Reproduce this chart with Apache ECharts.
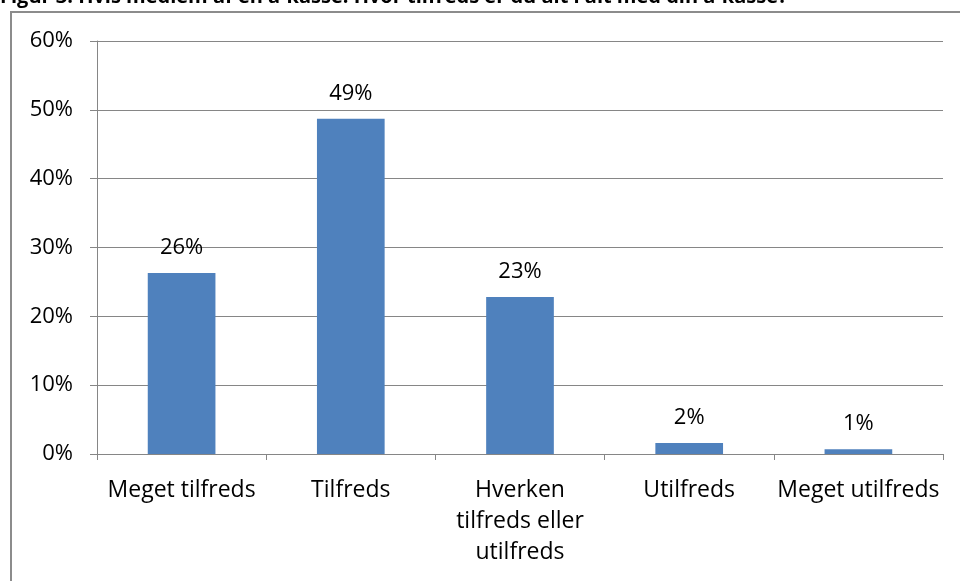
<!DOCTYPE html>
<html>
<head>
<meta charset="utf-8">
<script src="https://cdn.jsdelivr.net/npm/echarts@6/dist/echarts.min.js"></script>
<style>
  html, body { margin: 0; padding: 0; background: #fff; }
  #chart { width: 960px; height: 581px; }
</style>
</head>
<body>
<div id="chart"></div>
<script>
// tilfredshed med a-kassen
const categories = ['Meget tilfreds', 'Tilfreds', 'Hverken\ntilfreds eller\nutilfreds', 'Utilfreds', 'Meget utilfreds'];
const values = [26.3, 48.7, 22.8, 1.6, 0.7];
const titleText = 'Figur 3: Hvis medlem af en a-kasse: Hvor tilfreds er du alt i alt med din a-kasse?';

const font = '"Open Sans", "Liberation Sans", Arial, sans-serif';
const chart = echarts.init(document.getElementById('chart'));

const option = {
  animation: false,
  backgroundColor: '#fff',
  graphic: [
    {
      type: 'rect',
      shape: { x: 11, y: 12, width: 1000, height: 620 },
      style: { fill: 'none', stroke: '#8c8c8c', lineWidth: 2 }
    },
    {
      type: 'text',
      left: 0,
      top: -13,
      style: {
        text: titleText,
        font: 'bold 20px ' + font,
        fill: '#000'
      }
    }
  ],
  grid: { left: 97, right: 17, top: 41, bottom: 127 },
  xAxis: {
    type: 'category',
    data: categories,
    axisLine: { lineStyle: { color: '#868686', width: 1 } },
    axisTick: { show: true, length: 6, lineStyle: { color: '#868686' } },
    axisLabel: {
      color: '#000',
      fontSize: 23,
      fontFamily: font,
      margin: 21,
      lineHeight: 31,
      interval: 0
    }
  },
  yAxis: {
    type: 'value',
    min: 0,
    max: 60,
    interval: 10,
    axisLine: { show: true, lineStyle: { color: '#868686' } },
    axisTick: { show: true, length: 7, lineStyle: { color: '#868686' } },
    splitLine: { lineStyle: { color: '#868686', width: 1 } },
    axisLabel: {
      formatter: '{value}%',
      color: '#000',
      fontSize: 22,
      fontFamily: font,
      margin: 24
    }
  },
  series: [{
    type: 'bar',
    data: values,
    barWidth: '40%',
    itemStyle: { color: '#4f81bd' },
    label: {
      show: true,
      position: 'top',
      distance: 14,
      color: '#000',
      fontSize: 22,
      fontFamily: font,
      formatter: p => Math.round(p.value) + '%'
    }
  }]
};

chart.setOption(option);
window.addEventListener('resize', () => chart.resize());
</script>
</body>
</html>
